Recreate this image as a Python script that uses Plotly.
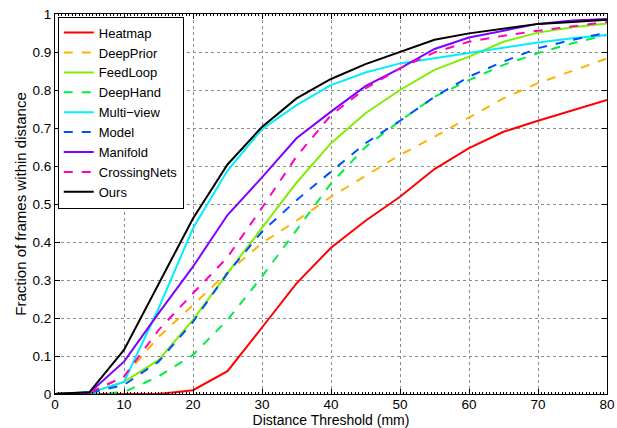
import plotly.graph_objects as go

x = [0, 5, 10, 15, 20, 25, 30, 35, 40, 45, 50, 55, 60, 65, 70, 75, 80]

heatmap = [0, 0.0, 0.0, 0.0, 0.01, 0.06, 0.175, 0.291, 0.385, 0.456, 0.519, 0.592, 0.647, 0.69, 0.719, 0.747, 0.774]
deepprior = [0, 0.003, 0.045, 0.15, 0.234, 0.32, 0.397, 0.456, 0.519, 0.574, 0.629, 0.677, 0.728, 0.778, 0.818, 0.851, 0.883]
feedloop = [0, 0.003, 0.032, 0.089, 0.195, 0.318, 0.437, 0.556, 0.66, 0.739, 0.80, 0.853, 0.888, 0.927, 0.951, 0.965, 0.975]
deephand = [0, 0.0, 0.005, 0.046, 0.103, 0.195, 0.309, 0.432, 0.554, 0.650, 0.719, 0.782, 0.826, 0.866, 0.897, 0.923, 0.945]
multiview = [0, 0.003, 0.032, 0.225, 0.436, 0.588, 0.697, 0.76, 0.813, 0.846, 0.87, 0.884, 0.898, 0.912, 0.925, 0.936, 0.945]
model = [0, 0.003, 0.024, 0.085, 0.19, 0.318, 0.427, 0.51, 0.585, 0.660, 0.719, 0.782, 0.835, 0.875, 0.91, 0.932, 0.951]
manifold = [0, 0.003, 0.085, 0.212, 0.335, 0.471, 0.57, 0.673, 0.743, 0.81, 0.857, 0.908, 0.938, 0.955, 0.974, 0.983, 0.987]
crossingnets = [0, 0.003, 0.046, 0.168, 0.265, 0.36, 0.49, 0.625, 0.734, 0.804, 0.857, 0.899, 0.927, 0.943, 0.956, 0.968, 0.979]
ours = [0, 0.005, 0.116, 0.288, 0.462, 0.604, 0.703, 0.778, 0.829, 0.868, 0.901, 0.932, 0.949, 0.961, 0.974, 0.979, 0.985]

series = [
    ("Heatmap", heatmap, "#ff0000", "solid"),
    ("DeepPrior", deepprior, "#ffb300", "dash"),
    ("FeedLoop", feedloop, "#80ee00", "solid"),
    ("DeepHand", deephand, "#00ee44", "dash"),
    ("Multi\u2212view", multiview, "#00eeff", "solid"),
    ("Model", model, "#0050ff", "dash"),
    ("Manifold", manifold, "#8000ff", "solid"),
    ("CrossingNets", crossingnets, "#ff00c0", "dash"),
    ("Ours", ours, "#000000", "solid"),
]

fig = go.Figure()
for name, vals, color, dash in series:
    fig.add_trace(go.Scatter(x=x, y=vals, mode="lines", name=name,
                             line=dict(color=color, width=2, dash=dash)))

axis_common = dict(
    showline=True, linecolor="black", linewidth=1, mirror="ticks",
    ticks="inside", ticklen=5, tickcolor="black",
    showgrid=True, gridcolor="#8c8c8c", griddash="dot", gridwidth=1,
    zeroline=False, tickfont=dict(size=13.5, color="black"), automargin=False,
)

fig.update_xaxes(range=[0, 80], dtick=10, tick0=0, ticklabelstandoff=-2,
                 title=dict(text="Distance Threshold (mm)", font=dict(size=14, color="black"), standoff=3),
                 minor=dict(ticks="inside", ticklen=2, dtick=0.5, tickcolor="black", showgrid=False),
                 **axis_common)
fig.update_yaxes(range=[0, 1], dtick=0.1, tick0=0,
                 title=dict(text="Fraction of frames within distance", font=dict(size=15, color="black"), standoff=2),
                 **axis_common)

fig.update_layout(
    width=617, height=428,
    margin=dict(l=55, r=10, t=14, b=34),
    paper_bgcolor="white", plot_bgcolor="white",
    font=dict(family="Liberation Sans, Arial, sans-serif", color="black"),
    legend=dict(x=0.005, y=0.993, xanchor="left", yanchor="top",
                bgcolor="white", bordercolor="black", borderwidth=1,
                font=dict(size=13), tracegroupgap=0, itemwidth=30),
    showlegend=True,
)

fig.write_html("out.html", config={"displayModeBar": False},
               post_script="document.body.style.margin='0px';document.body.style.overflow='hidden';")
